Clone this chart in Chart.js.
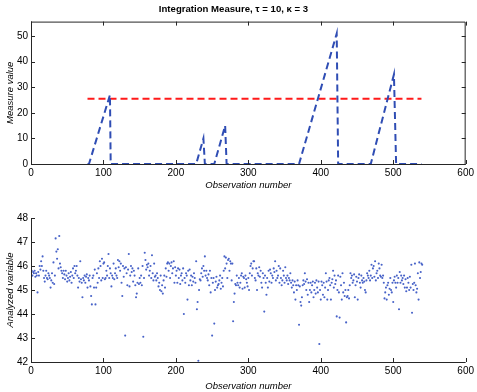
<!DOCTYPE html>
<html>
<head>
<meta charset="utf-8">
<script src="https://cdn.jsdelivr.net/npm/chart.js@4/dist/chart.umd.min.js"></script>
<style>
  html, body { margin: 0; padding: 0; background: #fff; }
  .box { width: 477px; height: 196px; position: relative; }
</style>
</head>
<body>
<div class="box"><canvas id="top"></canvas></div>
<div class="box"><canvas id="bottom"></canvas></div>
<script>
// ---- data ----
const chartTitle = 'Integration Measure, \u03c4 = 10, \u03ba = 3';
const xTicks = [0, 100, 200, 300, 400, 500, 600];
const measureTicks = [0, 10, 20, 30, 40, 50];
const analyzedTicks = [42, 43, 44, 45, 46, 47, 48];

// measure curve (break points of the dashed line)
const measureX = [78, 80, 109, 110, 228, 238, 240, 253, 268, 270, 370, 422, 424, 469, 501, 504, 539];
const measureY = [0, 0, 27, 0, 0, 10, 0, 0, 15, 0, 0, 51, 0, 0, 35, 0, 0];

// threshold line
const thresholdX = [78, 539];
const thresholdValue = 25.5;

// analyzed variable, observations 1..540
const analyzed = [
  45.8, 45.6, 45.75, 45.7, 45.8, 45.55, 45.7, 45.6, 44.9, 45.75, 45.6, 46.0, 45.85, 46.2, 46.0, 46.4, 45.8, 45.5, 45.35, 45.6,
  45.8, 45.5, 45.45, 45.7, 45.6, 45.5, 45.1, 45.4, 45.7, 45.3, 46.15, 45.25, 45.6, 47.15, 46.6, 46.3, 46.7, 45.9, 47.25, 46.1,
  45.95, 45.8, 45.7, 45.5, 45.8, 45.65, 45.45, 45.8, 45.6, 45.35, 45.5, 45.7, 45.4, 45.55, 45.75, 45.3, 45.6, 45.9, 45.5, 46.0,
  45.7, 45.8, 46.0, 45.6, 45.1, 45.5, 45.35, 46.2, 45.45, 45.3, 44.7, 45.5, 45.4, 45.6, 45.3, 45.55, 45.65, 45.1, 45.5, 45.4,
  45.6, 45.15, 44.75, 44.4, 45.5, 45.6, 45.1, 45.85, 44.4, 45.1, 45.7, 45.3, 45.9, 45.5, 46.2, 46.0, 45.4, 46.3, 45.5, 46.1,
  46.15, 45.45, 45.5, 45.8, 45.6, 46.0, 46.5, 45.5, 45.9, 45.7, 45.15, 45.6, 45.5, 46.1, 45.45, 45.7, 45.9, 45.6, 45.5, 46.25,
  45.95, 46.2, 45.8, 46.1, 45.3, 44.75, 46.0, 45.55, 45.9, 43.1, 45.95, 45.7, 45.2, 45.85, 46.5, 45.15, 45.6, 46.0, 45.75, 45.9,
  45.35, 45.8, 45.6, 45.2, 44.7, 44.85, 45.3, 45.9, 45.25, 45.5, 45.3, 45.6, 45.2, 46.0, 43.05, 45.5, 46.55, 46.25, 45.85, 46.05,
  45.95, 46.1, 45.6, 45.8, 46.0, 45.5, 46.45, 45.7, 45.4, 46.1, 45.55, 45.6, 45.4, 45.7, 45.5, 45.15, 45.3, 45.0, 45.6, 44.95,
  45.2, 44.85, 45.4, 45.6, 45.1, 45.9, 45.55, 46.1, 46.15, 45.8, 46.1, 45.5, 46.0, 46.15, 45.7, 45.9, 46.2, 45.3, 45.95, 45.6,
  45.8, 45.3, 45.9, 45.5, 45.85, 45.25, 45.6, 45.7, 45.4, 45.9, 44.0, 45.5, 45.3, 45.7, 45.6, 44.6, 45.8, 45.2, 45.85, 45.4,
  45.6, 45.2, 45.55, 45.35, 45.7, 45.5, 45.3, 46.2, 44.2, 44.5, 42.05, 45.0, 45.45, 45.4, 45.7, 45.9, 45.55, 46.0, 45.8, 46.4,
  45.6, 45.8, 45.5, 45.4, 45.65, 45.2, 45.8, 44.9, 45.5, 43.1, 45.3, 45.5, 43.6, 45.0, 45.35, 45.55, 45.1, 45.2, 45.25, 45.4,
  45.6, 45.05, 45.3, 45.5, 45.15, 45.8, 46.4, 45.9, 46.35, 46.1, 45.5, 46.25, 46.3, 45.8, 46.2, 46.1, 45.4, 46.1, 43.7, 44.5,
  44.85, 45.25, 45.2, 45.6, 45.3, 45.2, 45.5, 45.1, 45.3, 45.6, 45.7, 45.05, 45.55, 45.5, 45.1, 45.6, 45.45, 45.3, 45.15, 45.5,
  45.0, 45.7, 46.0, 46.1, 45.6, 45.9, 46.2, 46.2, 45.5, 45.4, 45.9, 45.0, 45.7, 45.6, 45.95, 45.55, 45.8, 45.3, 45.1, 45.7,
  45.5, 44.1, 45.6, 45.3, 44.8, 45.5, 45.1, 45.8, 45.35, 45.85, 45.7, 45.3, 45.6, 45.5, 45.9, 45.75, 46.2, 45.4, 45.8, 45.5,
  45.6, 46.0, 45.3, 45.9, 45.5, 45.2, 45.4, 45.8, 45.6, 45.3, 45.95, 45.5, 45.4, 45.6, 45.25, 45.5, 45.4, 45.7, 45.3, 45.1,
  45.4, 45.2, 44.9, 45.35, 44.6, 45.2, 45.0, 45.4, 45.2, 43.55, 45.15, 44.5, 44.35, 44.7, 45.2, 45.4, 45.25, 45.7, 45.35, 45.0,
  45.45, 44.8, 45.3, 44.5, 45.0, 45.3, 44.9, 45.2, 45.35, 44.7, 45.0, 45.3, 44.85, 45.4, 45.1, 44.9, 45.35, 42.75, 45.0, 44.6,
  45.35, 45.2, 44.8, 45.3, 44.7, 45.1, 45.7, 45.35, 44.6, 45.0, 45.4, 45.5, 45.2, 44.6, 45.3, 45.45, 45.8, 45.1, 45.6, 45.25,
  45.4, 43.9, 45.0, 45.6, 44.9, 43.85, 45.55, 45.2, 44.6, 45.7, 44.9, 45.3, 44.75, 45.0, 43.65, 44.7, 44.75, 45.0, 44.65, 45.2,
  45.7, 45.5, 45.6, 45.3, 45.4, 45.65, 44.7, 45.2, 45.55, 45.35, 44.6, 45.5, 45.65, 45.3, 45.1, 45.6, 45.4, 45.3, 45.5, 45.35,
  45.0, 44.9, 45.4, 45.7, 45.6, 45.5, 45.8, 45.4, 45.6, 46.05, 45.5, 45.9, 46.0, 45.55, 46.2, 45.4, 45.7, 45.8, 45.5, 46.1,
  45.9, 45.6, 45.55, 46.05, 45.5, 45.6, 45.3, 44.65, 44.9, 45.1, 44.6, 45.2, 45.3, 44.8, 45.05, 45.5, 45.0, 44.9, 45.3, 44.5,
  45.4, 45.55, 45.3, 45.1, 45.6, 45.3, 45.5, 44.2, 45.75, 45.3, 45.6, 45.4, 45.5, 45.25, 45.6, 45.1, 45.45, 44.95, 45.1, 45.5,
  45.3, 45.0, 45.55, 45.1, 46.05, 44.05, 45.25, 45.0, 45.3, 46.1, 45.2, 44.9, 45.05, 45.7, 44.6, 46.15, 45.5, 45.75, 46.1, 46.05
];

const axisColor = '#262626';
Chart.defaults.font.family = "'Liberation Sans', Arial, sans-serif";
Chart.defaults.font.size = 10;
Chart.defaults.color = '#000';

// matlab-like axes: inward ticks, optional full box
const matlabAxes = {
  id: 'matlabAxes',
  afterDraw(chart, args, opts) {
    const ctx = chart.ctx;
    const a = chart.chartArea;
    const xs = chart.scales.x, ys = chart.scales.y;
    const len = 4;
    ctx.save();
    ctx.strokeStyle = axisColor;
    ctx.lineWidth = 1;
    ctx.beginPath();
    ctx.moveTo(a.left + 0.5, a.top);
    ctx.lineTo(a.left + 0.5, a.bottom + 0.5);
    ctx.lineTo(a.right, a.bottom + 0.5);
    if (opts.box) {
      ctx.moveTo(a.right - 0.5, a.bottom);
      ctx.lineTo(a.right - 0.5, a.top + 0.5);
      ctx.lineTo(a.left, a.top + 0.5);
    }
    xs.ticks.forEach(t => {
      const px = Math.round(xs.getPixelForValue(t.value)) + 0.5;
      ctx.moveTo(px, a.bottom);
      ctx.lineTo(px, a.bottom - len);
      if (opts.box) {
        ctx.moveTo(px, a.top);
        ctx.lineTo(px, a.top + len);
      }
    });
    ys.ticks.forEach(t => {
      const py = Math.round(ys.getPixelForValue(t.value)) + 0.5;
      ctx.moveTo(a.left, py);
      ctx.lineTo(a.left + len, py);
      if (opts.box) {
        ctx.moveTo(a.right, py);
        ctx.lineTo(a.right - len, py);
      }
    });
    ctx.stroke();
    ctx.restore();
  }
};

function xScale(axisHeight, titlePad) {
  return {
    type: 'linear',
    min: 0, max: 600,
    afterBuildTicks: s => { s.ticks = xTicks.map(v => ({ value: v })); },
    afterFit: s => { s.height = axisHeight; },
    grid: { display: false, drawTicks: false },
    border: { display: false },
    ticks: { padding: 3, color: '#000', font: { size: 10 } },
    title: {
      display: true, text: 'Observation number',
      font: { size: 9.5, style: 'italic', lineHeight: 1 },
      padding: { top: 0, bottom: titlePad }
    }
  };
}

function yScale(min, max, tickList, label) {
  return {
    type: 'linear',
    min: min, max: max,
    afterBuildTicks: s => { s.ticks = tickList.map(v => ({ value: v })); },
    afterFit: s => { s.width = 31; },
    grid: { display: false, drawTicks: false },
    border: { display: false },
    ticks: { padding: 3, color: '#000', font: { size: 10 } },
    title: {
      display: true, text: label,
      font: { size: 9.5, style: 'italic', lineHeight: 1 },
      padding: { top: 6, bottom: 0 }
    }
  };
}

new Chart(document.getElementById('top'), {
  type: 'scatter',
  data: {
    datasets: [
      {
        label: 'Measure',
        data: measureX.map((x, i) => ({ x: x, y: measureY[i] })),
        showLine: true,
        borderColor: '#2f4db4',
        borderWidth: 2,
        borderDash: [7, 4],
        pointRadius: 0,
        fill: false
      },
      {
        label: 'Threshold',
        data: thresholdX.map(x => ({ x: x, y: thresholdValue })),
        showLine: true,
        borderColor: '#ff1a1a',
        borderWidth: 2,
        borderDash: [7, 4],
        pointRadius: 0,
        fill: false
      }
    ]
  },
  options: {
    responsive: true,
    maintainAspectRatio: false,
    animation: false,
    layout: { padding: { left: 0, right: 10, top: 0, bottom: 0 } },
    plugins: {
      legend: { display: false },
      tooltip: { enabled: false },
      title: {
        display: true, text: chartTitle, color: '#000',
        font: { size: 9.6, weight: 'bold', lineHeight: 1 },
        padding: { top: 5, bottom: 7 }
      },
      matlabAxes: { box: true }
    },
    scales: {
      x: xScale(32, 6),
      y: yScale(0, 55.7, measureTicks, 'Measure value')
    }
  },
  plugins: [matlabAxes]
});

new Chart(document.getElementById('bottom'), {
  type: 'scatter',
  data: {
    datasets: [{
      label: 'Analyzed variable',
      data: analyzed.map((v, i) => ({ x: i + 1, y: v })),
      backgroundColor: '#4762c8',
      borderWidth: 0,
      pointRadius: 1.05
    }]
  },
  options: {
    responsive: true,
    maintainAspectRatio: false,
    animation: false,
    layout: { padding: { left: 0, right: 10, top: 22, bottom: 0 } },
    plugins: {
      legend: { display: false },
      tooltip: { enabled: false },
      matlabAxes: { box: false }
    },
    scales: {
      x: xScale(30, 1),
      y: yScale(42, 48, analyzedTicks, 'Analyzed variable')
    }
  },
  plugins: [matlabAxes]
});
</script>
</body>
</html>
